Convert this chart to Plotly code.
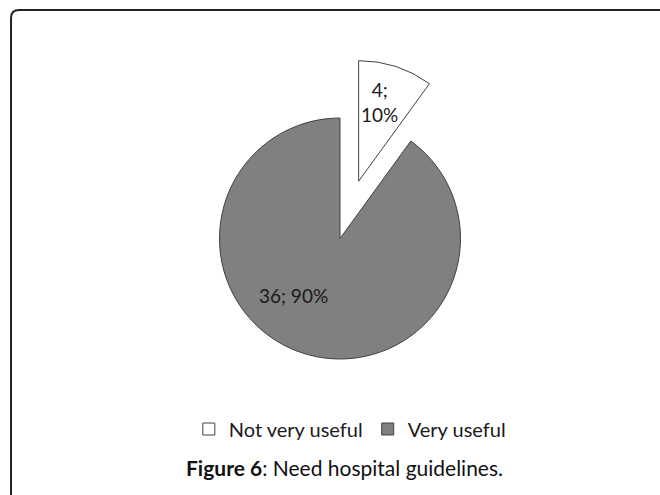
import plotly.graph_objects as go

# Survey responses: need for hospital guidelines
categories = ["Not very useful", "Very useful"]
counts = [4, 36]
slice_colors = ["#ffffff", "#808080"]
pulls = [0.5, 0]

W, H = 660, 495
FONT = "Lato, 'Open Sans', sans-serif"

# pie centre and box (pixels from top-left); plotly sizes the radius as box/(2+2*pull)
cx, cy, box = 340, 238.5, 361.5

total = sum(counts)
pcts = [round(100 * c / total) for c in counts]

fig = go.Figure(
    go.Pie(
        labels=categories,
        values=counts,
        sort=False,
        direction="clockwise",
        rotation=0,
        pull=pulls,
        marker=dict(colors=slice_colors, line=dict(color="#404040", width=1)),
        textinfo="none",
        hoverinfo="label+value+percent",
        domain=dict(
            x=[(cx - box / 2) / W, (cx + box / 2) / W],
            y=[1 - (cy + box / 2) / H, 1 - (cy - box / 2) / H],
        ),
    )
)

# rounded frame opening at the bottom and right
frame = "M 0.0167,0 L 0.0167,{y1:.4f} Q 0.0167,{y0:.4f} {x1:.4f},{y0:.4f} L 1.0,{y0:.4f}".format(
    y0=1 - 10 / H, y1=1 - 18 / H, x1=19 / W
)

label_font = dict(family=FONT, size=19, color="#1a1a1a")

fig.update_layout(
    width=W,
    height=H,
    margin=dict(l=0, r=0, t=0, b=0),
    paper_bgcolor="white",
    plot_bgcolor="white",
    showlegend=True,
    legend=dict(
        orientation="h",
        x=0.53,
        xanchor="center",
        y=1 - 429 / H,
        yanchor="middle",
        font=dict(family=FONT, size=20, color="#1a1a1a"),
        itemwidth=30,
        bgcolor="rgba(0,0,0,0)",
    ),
    shapes=[
        dict(
            type="path",
            path=frame,
            xref="paper",
            yref="paper",
            line=dict(color="#222222", width=2),
        )
    ],
    annotations=[
        # label inside the pulled-out small slice
        dict(
            text=f"{counts[0]};<br>{pcts[0]}%",
            x=(cx + 39) / W,
            y=1 - (cy - 137) / H,
            xref="paper",
            yref="paper",
            xanchor="center",
            yanchor="middle",
            showarrow=False,
            font=label_font,
        ),
        # label of the large slice, placed in its lower-left part
        dict(
            text=f"{counts[1]}; {pcts[1]}%",
            x=(cx - 47) / W,
            y=1 - (cy + 57) / H,
            xref="paper",
            yref="paper",
            xanchor="center",
            yanchor="middle",
            showarrow=False,
            font=label_font,
        ),
        dict(
            text="<b>Figure 6</b>: Need hospital guidelines.",
            x=344 / W,
            y=1 - 467 / H,
            xref="paper",
            yref="paper",
            xanchor="center",
            yanchor="middle",
            showarrow=False,
            font=dict(family=FONT, size=21, color="#111111"),
        ),
    ],
)

fig.write_html("out.html")
